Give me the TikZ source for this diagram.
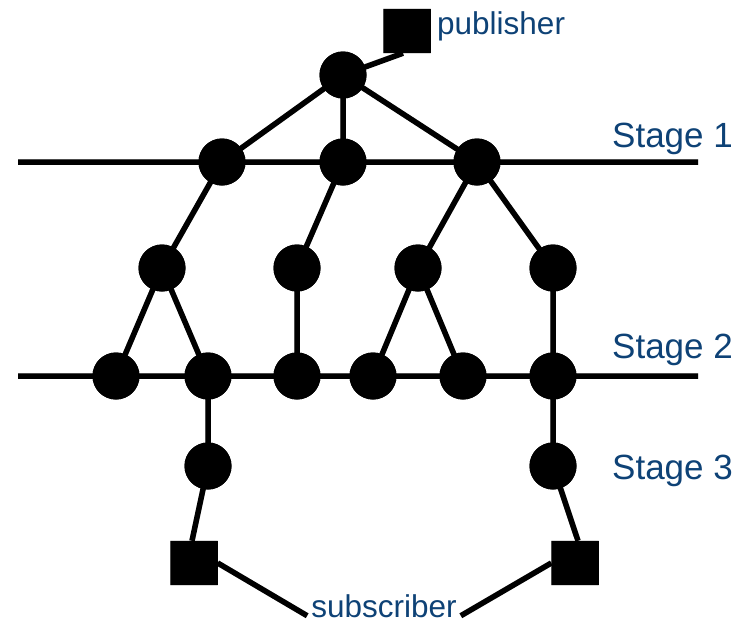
\documentclass[tikz,border=0pt]{standalone}
\usepackage{fontspec}
\setmainfont{Liberation Sans}
\begin{document}
\begin{tikzpicture}[x=1pt,y=-1pt,
  dot/.style={circle,fill=black,inner sep=0pt,minimum size=47pt},
  client/.style={rectangle,fill=black,inner sep=0pt,minimum width=47pt,minimum height=44pt},
  link/.style={line width=5.5pt},
  stagelabel/.style={text=labelblue,font=\fontsize{35}{40}\selectfont,anchor=base west,inner sep=0pt},
  rolelabel/.style={text=labelblue,font=\fontsize{31.5}{36}\selectfont,inner sep=0pt}]
\definecolor{labelblue}{RGB}{14,66,118}
\useasboundingbox (0,0) rectangle (753,624);

% node positions
\node[dot] (root) at (343,75) {};
\node[client] (pub) at (407,31) {};
\node[dot] (a1) at (222,162) {};
\node[dot] (a2) at (343,162) {};
\node[dot] (a3) at (477,162) {};
\node[dot] (m1) at (162,268) {};
\node[dot] (m2) at (297,268) {};
\node[dot] (m3) at (418,268) {};
\node[dot] (m4) at (553,268) {};
\node[dot] (c1) at (116,376) {};
\node[dot] (c2) at (208,376) {};
\node[dot] (c3) at (297,376) {};
\node[dot] (c4) at (373,376) {};
\node[dot] (c5) at (463,376) {};
\node[dot] (c6) at (553,376) {};
\node[dot] (d1) at (208,466) {};
\node[dot] (d2) at (553,466) {};
\node[client] (s1) at (194,563) {};
\node[client] (s2) at (575,563) {};

% labels
\node[rolelabel,anchor=base west] (publbl) at (437,34) {publisher};
\node[rolelabel,anchor=base] (sublbl) at (384,617) {subscriber};
\node[stagelabel] (st1) at (612,147) {Stage 1};
\node[stagelabel] (st2) at (612,358) {Stage 2};
\node[stagelabel] (st3) at (612,479) {Stage 3};

% stage bus end points
\coordinate (b1l) at (18,162);  \coordinate (b1r) at (698,162);
\coordinate (b2l) at (18,376);  \coordinate (b2r) at (698,376);

% the whole network, drawn once as a soft shadow and once in black
\foreach \col/\dx/\dy/\op in {black/2.5/3/0.22, black/0/0/1} {
  \begin{scope}[shift={(\dx,\dy)},draw=\col,fill=\col,opacity=\op,transparency group]
    \draw[link] (b1l) -- (b1r);
    \draw[link] (b2l) -- (b2r);
    \draw[link] (root.center) -- ([xshift=-4pt]pub.south);
    \foreach \u/\v in {root/a1,root/a2,root/a3,a1/m1,a2/m2,a3/m3,a3/m4,
                       m1/c1,m1/c2,m2/c3,m3/c4,m3/c5,m4/c6,c2/d1,c6/d2}
      \draw[link] (\u.center) -- (\v.center);
    \draw[link] (d1.center) -- ([xshift=-2pt]s1.north);
    \draw[link] (d2.center) -- ([xshift=3pt]s2.north);
    \draw[link] (s1.east) -- ([xshift=-4pt,yshift=-10pt]sublbl.west);
    \draw[link] (s2.west) -- ([xshift=4pt,yshift=-10pt]sublbl.east);
    \foreach \n in {root,a1,a2,a3,m1,m2,m3,m4,c1,c2,c3,c4,c5,c6,d1,d2}
      \fill (\n) circle (23.5pt);
    \foreach \n in {pub,s1,s2}
      \fill (\n.south west) rectangle (\n.north east);
  \end{scope}
}
\end{tikzpicture}
\end{document}
